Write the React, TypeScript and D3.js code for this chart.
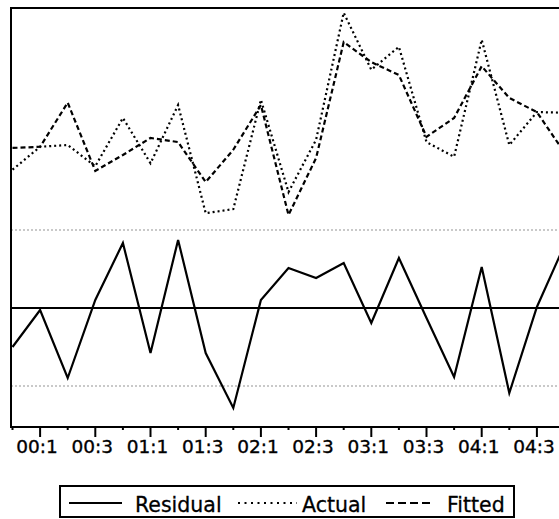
import React from "react";
import * as d3 from "d3";

// quarterly sample, first visible obs is 1999Q4
const periods = [
  "99:4", "00:1", "00:2", "00:3", "00:4", "01:1", "01:2", "01:3", "01:4",
  "02:1", "02:2", "02:3", "02:4", "03:1", "03:2", "03:3", "03:4",
  "04:1", "04:2", "04:3", "04:4",
];

const actual = [
  4.563, 4.602, 4.605, 4.569, 4.651, 4.574, 4.673, 4.489, 4.496, 4.682, 4.525,
  4.614, 4.83, 4.733, 4.772, 4.61, 4.585, 4.784, 4.605, 4.661, 4.66,
];

const fitted = [
  4.6, 4.602, 4.677, 4.561, 4.588, 4.617, 4.61, 4.542, 4.597, 4.673, 4.486,
  4.583, 4.78, 4.746, 4.724, 4.619, 4.651, 4.739, 4.685, 4.661, 4.592,
];

const residual = [
  -0.039, -0.002, -0.07, 0.008, 0.065, -0.045, 0.068, -0.045, -0.1, 0.008, 0.04,
  0.03, 0.045, -0.015, 0.05, -0.01, -0.069, 0.041, -0.085, 0.001, 0.063,
];

const residSE = 0.078;

const legendItems = ["Residual", "Actual", "Fitted"];

const width = 559;
const height = 519;
const plotLeft = 11;
const plotTop = 8;
const plotBottom = 427;
const font = "'DejaVu Sans', sans-serif";

const idx = periods.map((_, i) => i);

const x = d3.scaleLinear().domain([0, periods.length - 1]).range([12.5, 564.5]);
const yResid = d3.scaleLinear().domain([-0.119, 0.3]).range([plotBottom, plotTop]);
const yLevel = d3.scaleLinear().domain([4.1255, 4.838]).range([plotBottom, plotTop]);

const residLine = d3.line<number>().x((i) => x(i)).y((i) => yResid(residual[i]));
const actualLine = d3.line<number>().x((i) => x(i)).y((i) => yLevel(actual[i]));
const fittedLine = d3.line<number>().x((i) => x(i)).y((i) => yLevel(fitted[i]));

const plotDash: Record<string, string | undefined> = {
  Residual: undefined,
  Actual: "2,3",
  Fitted: "5,3",
};
const legendDash: Record<string, string | undefined> = {
  Residual: undefined,
  Actual: "2,4.5",
  Fitted: "8,4",
};

const legendPos = [
  { x1: 69, x2: 122, tx: 135 },
  { x1: 238, x2: 297, tx: 302 },
  { x1: 386, x2: 432, tx: 447 },
];

export default function App() {
  return (
    <svg
      width={width}
      height={height}
      style={{ position: "absolute", left: 0, top: 0, background: "#fff" }}
    >
      <rect width={width} height={height} fill="#fff" />

      {/* +/- 1 S.E. bands */}
      {[residSE, -residSE].map((v) => (
        <line
          key={v}
          x1={plotLeft}
          x2={width}
          y1={yResid(v)}
          y2={yResid(v)}
          stroke="#b8b8b8"
          strokeWidth={1.5}
          strokeDasharray="2,2"
        />
      ))}
      <line
        x1={plotLeft}
        x2={width}
        y1={yResid(0)}
        y2={yResid(0)}
        stroke="#000"
        strokeWidth={2}
      />

      <path d={residLine(idx) ?? ""} fill="none" stroke="#000" strokeWidth={2.2} />
      <path
        d={actualLine(idx) ?? ""}
        fill="none"
        stroke="#000"
        strokeWidth={2.2}
        strokeDasharray={plotDash.Actual}
      />
      <path
        d={fittedLine(idx) ?? ""}
        fill="none"
        stroke="#000"
        strokeWidth={2.2}
        strokeDasharray={plotDash.Fitted}
      />

      {/* frame */}
      <line x1={plotLeft} x2={width} y1={plotTop} y2={plotTop} stroke="#000" strokeWidth={2} />
      <line x1={plotLeft} x2={plotLeft} y1={plotTop - 1} y2={plotBottom + 1} stroke="#000" strokeWidth={2} />
      <line x1={plotLeft} x2={width} y1={plotBottom} y2={plotBottom} stroke="#000" strokeWidth={2} />

      {/* time axis */}
      {idx.map((i) => (
        <line
          key={"t" + i}
          x1={x(i)}
          x2={x(i)}
          y1={plotBottom}
          y2={plotBottom + (i % 2 === 1 ? 10 : 3)}
          stroke="#000"
          strokeWidth={2}
        />
      ))}
      {idx
        .filter((i) => i % 2 === 1)
        .map((i) => (
          <text
            key={"l" + i}
            x={x(i) - 3}
            y={453}
            textAnchor="middle"
            fontFamily={font}
            fontSize={18.5}
            fill="#000"
            stroke="#000"
            strokeWidth={0.35}
          >
            {periods[i]}
          </text>
        ))}

      {/* legend */}
      <rect x={60} y={486} width={454} height={31} fill="#fff" stroke="#000" strokeWidth={2} />
      {legendItems.map((name, j) => (
        <g key={name}>
          <line
            x1={legendPos[j].x1}
            x2={legendPos[j].x2}
            y1={503}
            y2={503}
            stroke="#000"
            strokeWidth={2}
            strokeDasharray={legendDash[name]}
          />
          <text
            x={legendPos[j].tx}
            y={511.5}
            fontFamily={font}
            fontSize={20.5}
            fill="#000"
            stroke="#000"
            strokeWidth={0.3}
          >
            {name}
          </text>
        </g>
      ))}
    </svg>
  );
}
